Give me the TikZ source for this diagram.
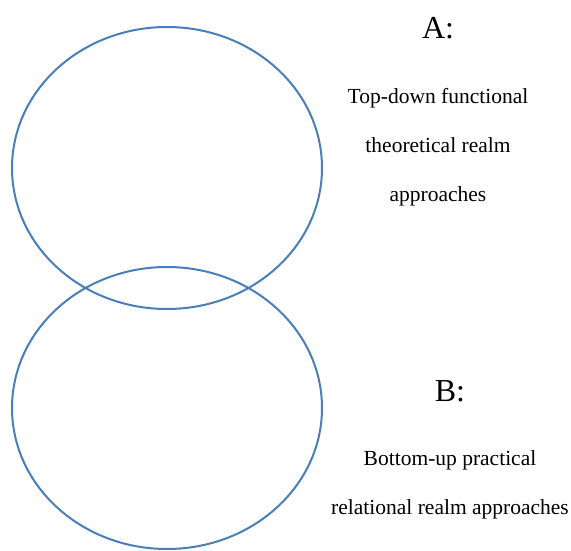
\documentclass[tikz,border=0pt]{standalone}
\usepackage{fontspec}
\setmainfont{Liberation Serif}
\usetikzlibrary{shapes.geometric}
\definecolor{vblue}{RGB}{74,126,187}
\begin{document}
\begin{tikzpicture}[x=1pt,y=-1pt,
  venn/.style={ellipse, draw=vblue, line width=2pt, minimum width=310pt, minimum height=282pt, inner sep=0pt},
  letter/.style={anchor=base, inner sep=0pt, font=\fontsize{32}{34}\selectfont},
  body/.style={anchor=base, inner sep=0pt, font=\fontsize{21.5}{24}\selectfont}]
\useasboundingbox (0,0) rectangle (571,551);
\node[venn] (A) at (167,168) {};
\node[venn] (B) at (167,408) {};
\node[letter] (la) at (438,39) {A:};
\node[body] (a1) at (438,103) {Top-down functional};
\node[body] (a2) at (438,152) {theoretical realm};
\node[body] (a3) at (438,201) {approaches};
\node[letter] (lb) at (450,401) {B:};
\node[body] (b1) at (450,465) {Bottom-up practical};
\node[body] (b2) at (450,514) {relational realm approaches};
\end{tikzpicture}
\end{document}
